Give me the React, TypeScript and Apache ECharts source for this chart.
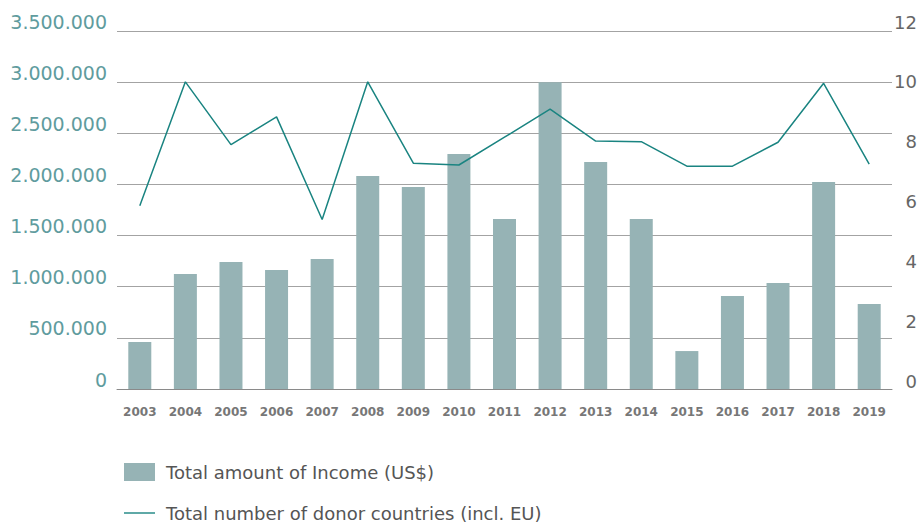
import React, { useEffect, useRef } from "react";
import * as echarts from "echarts";

const years = ["2003","2004","2005","2006","2007","2008","2009","2010","2011","2012","2013","2014","2015","2016","2017","2018","2019"];
const income = [460000,1124000,1242000,1163000,1271000,2082000,1975000,2298000,1662000,3000000,2219000,1662000,371000,909000,1036000,2024000,831000];
const donors = [5.86,10,7.9,8.83,5.4,10,7.28,7.22,8.15,9.09,8.02,8,7.18,7.18,7.98,9.95,7.25];
const incomeTicks = [0,500000,1000000,1500000,2000000,2500000,3000000,3500000];
const donorTicks = [0,2,4,6,8,10,12];
const incomeName = "Total amount of Income (US$)";
const donorName = "Total number of donor countries (incl. EU)";

const fmt = (v: number) => String(Math.round(v)).replace(/\B(?=(\d{3})+(?!\d))/g, ".");

export default function App() {
  const ref = useRef<HTMLDivElement>(null);
  useEffect(() => {
    if (!ref.current) return;
    const chart = echarts.init(ref.current, undefined, { renderer: "svg" });
    const font = "DejaVu Sans";
    const legendText = { fontFamily: font, fontSize: 18, color: "#555", padding: [0, 0, 0, 6] };
    chart.setOption({
      animation: false,
      textStyle: { fontFamily: font },
      legend: [
        {
          orient: "horizontal",
          left: 119,
          top: 458,
          itemWidth: 31,
          itemHeight: 18,
          textStyle: legendText,
          data: [{ name: incomeName, icon: "rect" }],
        },
        {
          orient: "horizontal",
          left: 119,
          top: 499,
          itemWidth: 31,
          itemHeight: 18,
          textStyle: legendText,
          data: [{ name: donorName, icon: "path://M0,0 L31,0 L31,1.4 L0,1.4 Z" }],
        },
      ],
      grid: [
        { left: 117, right: 28, top: 31, bottom: 524 - 389 },
        { left: 117, right: 28, top: 22, bottom: 524 - 381 },
      ],
      xAxis: [
        {
          type: "category",
          gridIndex: 0,
          data: years,
          axisLine: { lineStyle: { color: "#8a8a8a", width: 1 } },
          axisTick: { show: false },
          axisLabel: { fontFamily: font, fontSize: 12, fontWeight: "bold", color: "#777", margin: 17 },
        },
        {
          type: "category",
          gridIndex: 1,
          data: years,
          show: false,
        },
      ],
      yAxis: [
        {
          type: "value",
          gridIndex: 0,
          min: incomeTicks[0],
          max: incomeTicks[incomeTicks.length - 1],
          interval: incomeTicks[1] - incomeTicks[0],
          axisLine: { show: false },
          axisTick: { show: false },
          splitLine: { lineStyle: { color: "#a3a3a3", width: 1 } },
          axisLabel: {
            fontFamily: font,
            fontSize: 19,
            color: "#5f9c9e",
            margin: 10,
            verticalAlign: "bottom",
            formatter: (v: number) => fmt(v),
          },
        },
        {
          type: "value",
          gridIndex: 1,
          position: "right",
          min: donorTicks[0],
          max: donorTicks[donorTicks.length - 1],
          interval: donorTicks[1] - donorTicks[0],
          axisLine: { show: false },
          axisTick: { show: false },
          splitLine: { show: false },
          axisLabel: {
            fontFamily: font,
            fontSize: 18,
            color: "#666",
            margin: 25,
            align: "right",
          },
        },
      ],
      series: [
        {
          name: incomeName,
          type: "bar",
          xAxisIndex: 0,
          yAxisIndex: 0,
          data: income,
          barWidth: 23,
          itemStyle: { color: "#96b3b5" },
        },
        {
          name: donorName,
          type: "line",
          xAxisIndex: 1,
          yAxisIndex: 1,
          data: donors,
          symbol: "none",
          lineStyle: { color: "#1a8481", width: 1.5 },
          itemStyle: { color: "#1a8481" },
        },
      ],
    });
    return () => chart.dispose();
  }, []);
  return <div ref={ref} style={{ width: 920, height: 524, position: "absolute", left: 0, top: 0, background: "#fff" }} />;
}
